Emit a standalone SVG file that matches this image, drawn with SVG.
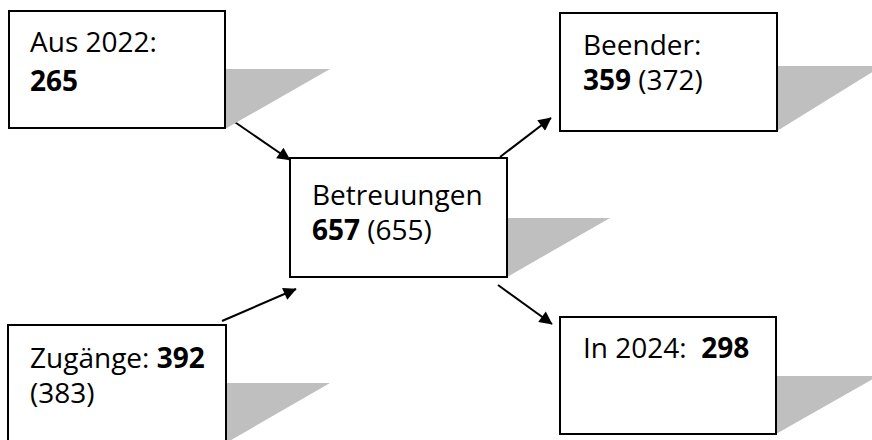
<svg xmlns="http://www.w3.org/2000/svg" width="872" height="440" viewBox="0 0 872 440">
<style>
.box{fill:#fff;stroke:#000;stroke-width:2}
.sh{fill:#bfbfbf}
.t{font-family:"Open Sans","Liberation Sans",sans-serif;font-size:28px;fill:#000}
.b{font-weight:bold}
.c{stroke:#000;stroke-width:2;fill:none;marker-end:url(#ah)}
</style>
<defs>
<marker id="ah" viewBox="0 0 10 10" markerUnits="userSpaceOnUse" markerWidth="17" markerHeight="13" refX="9.5" refY="5" orient="auto">
<path d="M0,0 L10,5 L0,10 z" fill="#000"/>
</marker>
</defs>
<g id="connectors">
<line class="c" x1="226" y1="116" x2="290" y2="160"/>
<line class="c" x1="500" y1="157" x2="551" y2="118"/>
<line class="c" x1="222" y1="321" x2="296" y2="289"/>
<line class="c" x1="498" y1="285" x2="552" y2="324"/>
</g>
<g id="aus2022">
<polygon class="sh" points="200,69 330,69 225,129 200,129"/>
<rect class="box" x="9" y="11" width="216" height="117"/>
<text class="t" x="30" y="52">Aus 2022:</text>
<text class="t b" x="30" y="91">265</text>
</g>
<g id="beender">
<polygon class="sh" points="750,66 882,66 777,131 750,131"/>
<rect class="box" x="560" y="13" width="217" height="118"/>
<text class="t" x="583" y="55">Beender:</text>
<text class="t" x="583" y="90"><tspan class="b">359</tspan> (372)</text>
</g>
<g id="betreuungen">
<polygon class="sh" points="480,218 610,218 507,277 480,277"/>
<rect class="box" x="290" y="158" width="217" height="119"/>
<text class="t" x="312" y="205">Betreuungen</text>
<text class="t" x="312" y="240"><tspan class="b">657</tspan> (655)</text>
</g>
<g id="zugaenge">
<polygon class="sh" points="200,383 330,383 226,443 200,443"/>
<rect class="box" x="8" y="325" width="218" height="125"/>
<text class="t" x="30" y="368">Zugänge: <tspan class="b">392</tspan></text>
<text class="t" x="30" y="403">(383)</text>
</g>
<g id="in2024">
<polygon class="sh" points="750,376 878,376 776,434 750,434"/>
<rect class="box" x="560" y="317" width="216" height="117"/>
<text class="t" x="583" y="358" xml:space="preserve">In 2024:  <tspan class="b">298</tspan></text>
</g>
</svg>
